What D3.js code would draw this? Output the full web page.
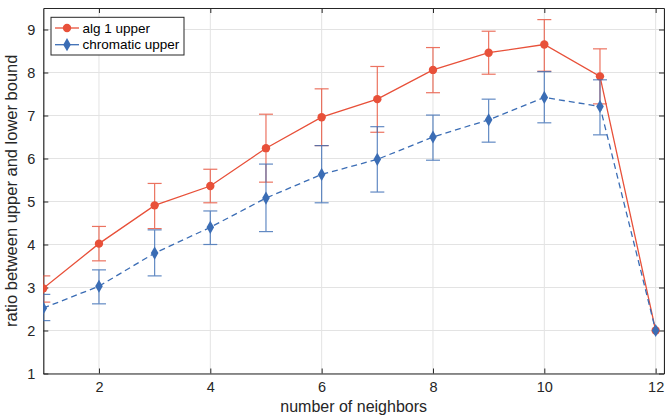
<!DOCTYPE html>
<html><head><meta charset="utf-8">
<script src="https://cdn.jsdelivr.net/npm/d3@7"></script>
<style>body{margin:0;background:#fff}svg{display:block;font-family:"Liberation Sans",Arial,sans-serif}</style>
</head><body>
<svg id="c" width="665" height="417"></svg>
<script>
const neighbors = [1,2,3,4,5,6,7,8,9,10,11,12];
const algMean = [2.98,4.02,4.91,5.36,6.24,6.96,7.38,8.06,8.46,8.65,7.91,2.0];
const algLow  = [2.66,3.62,4.37,4.97,5.45,6.30,6.61,7.53,7.96,8.03,7.27,2.0];
const algHigh = [3.27,4.42,5.42,5.75,7.03,7.62,8.14,8.58,8.96,9.23,8.55,2.0];
const chrMean = [2.52,3.03,3.80,4.40,5.08,5.63,5.98,6.50,6.90,7.42,7.21,2.0];
const chrLow  = [2.23,2.62,3.27,4.00,4.30,4.97,5.22,5.96,6.38,6.83,6.55,2.0];
const chrHigh = [2.84,3.41,4.34,4.78,5.87,6.30,6.74,7.01,7.38,8.02,7.83,2.0];
const xTicks = [2,4,6,8,10,12];
const yTicks = [1,2,3,4,5,6,7,8,9];
const seriesNames = ["alg 1 upper","chromatic upper"];

const red = "#E8513A", blue = "#3B6DB5", axisC = "#262626", gridC = "#e3e3e3";
const svg = d3.select("#c");
const L = 43.3, R = 664, T = 8, B = 373.5;
const x = d3.scaleLinear().domain([1,12.15]).range([L,R]);
const y = d3.scaleLinear().domain([1,9.5]).range([B,T]);

// grid
const g = svg.append("g");
g.selectAll(".gx").data(xTicks).join("line")
  .attr("x1",d=>x(d)).attr("x2",d=>x(d)).attr("y1",T).attr("y2",B)
  .attr("stroke",gridC).attr("stroke-width",1);
g.selectAll(".gy").data(yTicks).join("line")
  .attr("x1",L).attr("x2",R).attr("y1",d=>y(d)).attr("y2",d=>y(d))
  .attr("stroke",gridC).attr("stroke-width",1);

// axes
const tickLen = 5;
const xa = svg.append("g").attr("transform",`translate(0,${B})`)
  .call(d3.axisBottom(x).tickValues(xTicks).tickSizeInner(-tickLen).tickSizeOuter(0).tickPadding(8));
const xt = svg.append("g").attr("transform",`translate(0,${T})`)
  .call(d3.axisTop(x).tickValues(xTicks).tickSizeInner(-tickLen).tickSizeOuter(0).tickFormat(""));
const ya = svg.append("g").attr("transform",`translate(${L},0)`)
  .call(d3.axisLeft(y).tickValues(yTicks).tickSizeInner(-tickLen).tickSizeOuter(0).tickPadding(8));
const yr = svg.append("g").attr("transform",`translate(${R},0)`)
  .call(d3.axisRight(y).tickValues(yTicks).tickSizeInner(-tickLen).tickSizeOuter(0).tickFormat(""));
[xa,xt,ya,yr].forEach(a=>{
  a.select(".domain").attr("stroke",axisC).attr("stroke-width",1.2);
  a.selectAll(".tick line").attr("stroke",axisC).attr("stroke-width",1);
  a.selectAll(".tick text").attr("fill",axisC).attr("font-size",14.5).attr("font-family","Liberation Sans, Arial, sans-serif");
});

// clip
svg.append("clipPath").attr("id","clip").append("rect").attr("x",L).attr("y",T).attr("width",R-L).attr("height",B-T);
const plot = svg.append("g").attr("clip-path","url(#clip)");

function drawSeries(mean, lo, hi, color, dash, marker){
  const idx = d3.range(neighbors.length);
  const eg = plot.append("g").attr("stroke",color).attr("stroke-width",1.2).attr("opacity",0.8);
  const capW = 7;
  idx.forEach(i=>{
    if (hi[i]===lo[i]) return;
    const cx = x(neighbors[i]);
    eg.append("line").attr("x1",cx).attr("x2",cx).attr("y1",y(lo[i])).attr("y2",y(hi[i]));
    eg.append("line").attr("x1",cx-capW).attr("x2",cx+capW).attr("y1",y(lo[i])).attr("y2",y(lo[i]));
    eg.append("line").attr("x1",cx-capW).attr("x2",cx+capW).attr("y1",y(hi[i])).attr("y2",y(hi[i]));
  });
  const line = d3.line().x(i=>x(neighbors[i])).y(i=>y(mean[i]));
  plot.append("path").datum(idx).attr("d",line).attr("fill","none")
    .attr("stroke",color).attr("stroke-width",1.3).attr("stroke-dasharray",dash?"6,4":null);
  const sym = d3.symbol().type(marker==="circle"?d3.symbolCircle:d3.symbolDiamond).size(marker==="circle"?55:50);
  plot.selectAll(null).data(idx).join("path")
    .attr("transform",i=>`translate(${x(neighbors[i])},${y(mean[i])})`)
    .attr("d",sym).attr("fill",color);
}
drawSeries(algMean, algLow, algHigh, red, false, "circle");
drawSeries(chrMean, chrLow, chrHigh, blue, true, "diamond");

// axis labels
svg.append("text").attr("x",(L+R)/2).attr("y",412).attr("text-anchor","middle")
  .attr("font-size",16).attr("fill",axisC).text("number of neighbors");
svg.append("text").attr("transform",`translate(17,${(T+B)/2}) rotate(-90)`).attr("text-anchor","middle")
  .attr("font-size",16.5).attr("fill",axisC).text("ratio between upper and lower bound");

// legend
const lg = svg.append("g");
lg.append("rect").attr("x",51).attr("y",17.3).attr("width",133).attr("height",37.7)
  .attr("fill","#fff").attr("stroke",axisC).attr("stroke-width",1);
const legItems = [{c:red,m:"circle",dash:false,yy:28},{c:blue,m:"diamond",dash:false,yy:44.7}];
legItems.forEach((d,i)=>{
  lg.append("line").attr("x1",55).attr("x2",79).attr("y1",d.yy).attr("y2",d.yy).attr("stroke",d.c).attr("stroke-width",1.3);
  lg.append("path").attr("transform",`translate(67,${d.yy})`)
    .attr("d",d3.symbol().type(d.m==="circle"?d3.symbolCircle:d3.symbolDiamond).size(d.m==="circle"?55:50)).attr("fill",d.c);
  lg.append("text").attr("x",82.5).attr("y",d.yy+4.5).attr("font-size",13.5).attr("fill","#000").text(seriesNames[i]);
});
</script>
</body></html>
